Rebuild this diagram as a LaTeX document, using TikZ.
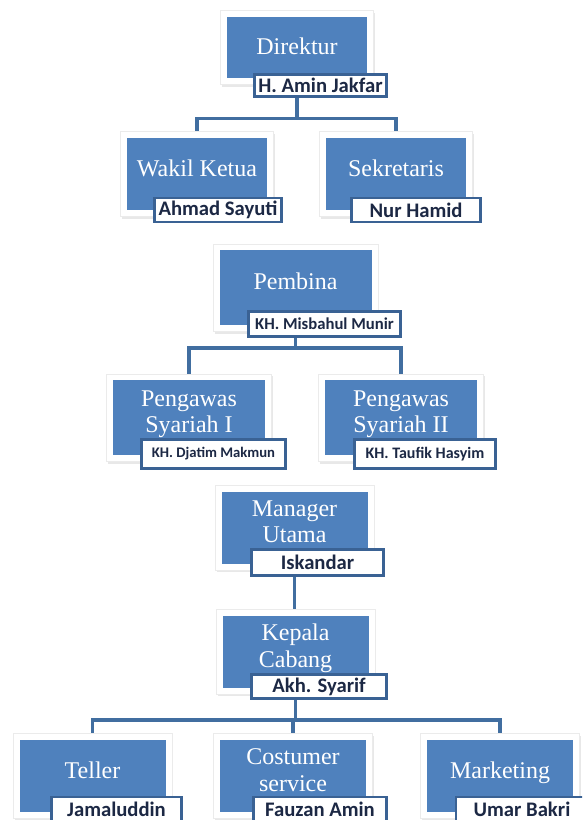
\documentclass[tikz,border=0pt]{standalone}
\usepackage{fontspec}
\setmainfont{Liberation Serif}
\newfontfamily\namafont{Carlito}
\usetikzlibrary{shadows,fit,backgrounds}
\definecolor{kotak}{RGB}{79,129,189}
\definecolor{garis}{RGB}{65,110,160}
\definecolor{tepi}{RGB}{58,98,148}
\definecolor{tinta}{RGB}{28,40,68}
\tikzset{
  jabatan/.style={rectangle, fill=kotak, text=white, align=center, inner sep=0pt,
    minimum width=109.5pt, minimum height=54pt, text depth=9pt,
    font=\fontsize{18}{20}\selectfont},
  nama/.style={rectangle, fill=white, draw=tepi, line width=2.2pt, inner sep=1pt,
    minimum width=99pt, minimum height=18pt, text=tinta,
    font=\namafont\bfseries\fontsize{15.5}{17}\selectfont},
  bingkai/.style={rectangle, fill=white, draw=black!8, line width=0.4pt, inner sep=4.5pt,
    drop shadow={opacity=0.18, shadow xshift=1.2pt, shadow yshift=-1.8pt}},
  link/.style={draw=garis, line width=2.6pt}
}

\begin{document}
\begin{tikzpicture}[x=0.75pt, y=-0.75pt]
\path[use as bounding box] (0,0) rectangle (582,820);
\clip (0,0) rectangle (582,820);

\node[jabatan, minimum width=105pt, minimum height=45.75pt, text depth=2pt] (dir) at (297,47.5) {Direktur};
\node[jabatan, minimum width=105pt] (wakil) at (197,174) {Wakil Ketua};
\node[jabatan, minimum width=105pt] (sek) at (396,174) {Sekretaris};

\node[jabatan, minimum width=114pt, minimum height=56pt] (pemb) at (295.5,287.5) {Pembina};
\node[jabatan, minimum width=114pt, minimum height=56pt] (peng1) at (189,417.5) {Pengawas\\Syariah I};
\node[jabatan, minimum width=114pt, minimum height=56pt] (peng2) at (401,417.5) {Pengawas\\Syariah II};

\node[jabatan] (man) at (294.5,527.5) {Manager\\Utama};
\node[jabatan] (kep) at (295.5,651.5) {Kepala\\Cabang};

\node[jabatan] (tel) at (92.5,776) {Teller};
\node[jabatan] (cs) at (293,776) {Costumer\\service};
\node[jabatan] (mkt) at (500,776) {Marketing};

\node[nama, minimum height=16.5pt] (dirN) at (320.5,85.5) {H. Amin Jakfar};
\node[nama, minimum width=95pt] (wakilN) at (218,210) {Ahmad Sayuti};
\node[nama, minimum width=97pt] (sekN) at (416,210) {Nur Hamid};
\node[nama, minimum width=114pt, minimum height=19pt,
  font=\namafont\bfseries\fontsize{12.5}{14}\selectfont] (pembN) at (324.5,324) {KH. Misbahul Munir};
\node[nama, minimum width=108pt, minimum height=22pt,
  font=\namafont\bfseries\fontsize{11}{13}\selectfont] (peng1N) at (213.5,454) {KH. Djatim Makmun};
\node[nama, minimum width=106pt, minimum height=22pt,
  font=\namafont\bfseries\fontsize{12}{14}\selectfont] (peng2N) at (425,454) {KH. Taufik Hasyim};
\node[nama, minimum height=19.5pt] (manN) at (317.5,562.5) {Iskandar};
\node[nama, minimum width=101pt] (kepN) at (319,686.5) {Akh. Syarif};
\node[nama, minimum width=97.5pt] (telN) at (116.5,809) {Jamaluddin};
\node[nama, minimum width=100pt] (csN) at (320,809) {Fauzan Amin};
\node[nama] (mktN) at (522,809) {Umar Bakri};

\begin{scope}[on background layer]
\draw[link] (dir.south) -- ++(0,40) -| (wakil.north);
\draw[link] (dir.south) ++(0,40) -| (sek.north);
\draw[link] (pemb.south) -- ++(0,23) -| (peng1.north);
\draw[link] (pemb.south) ++(0,23) -| (peng2.north);
\draw[link] (man.south) -- (man.south |- kep.north);
\draw[link] (kep.south) -- ++(0,32) -| (tel.north);
\draw[link] (kep.south) ++(0,32) -| (cs.north);
\draw[link] (kep.south) ++(0,32) -| (mkt.north);
\foreach \n in {dir,wakil,sek,pemb,peng1,peng2,man,kep,tel,cs,mkt}
  \node[bingkai, fit=(\n)] {};
\end{scope}
\end{tikzpicture}
\end{document}
